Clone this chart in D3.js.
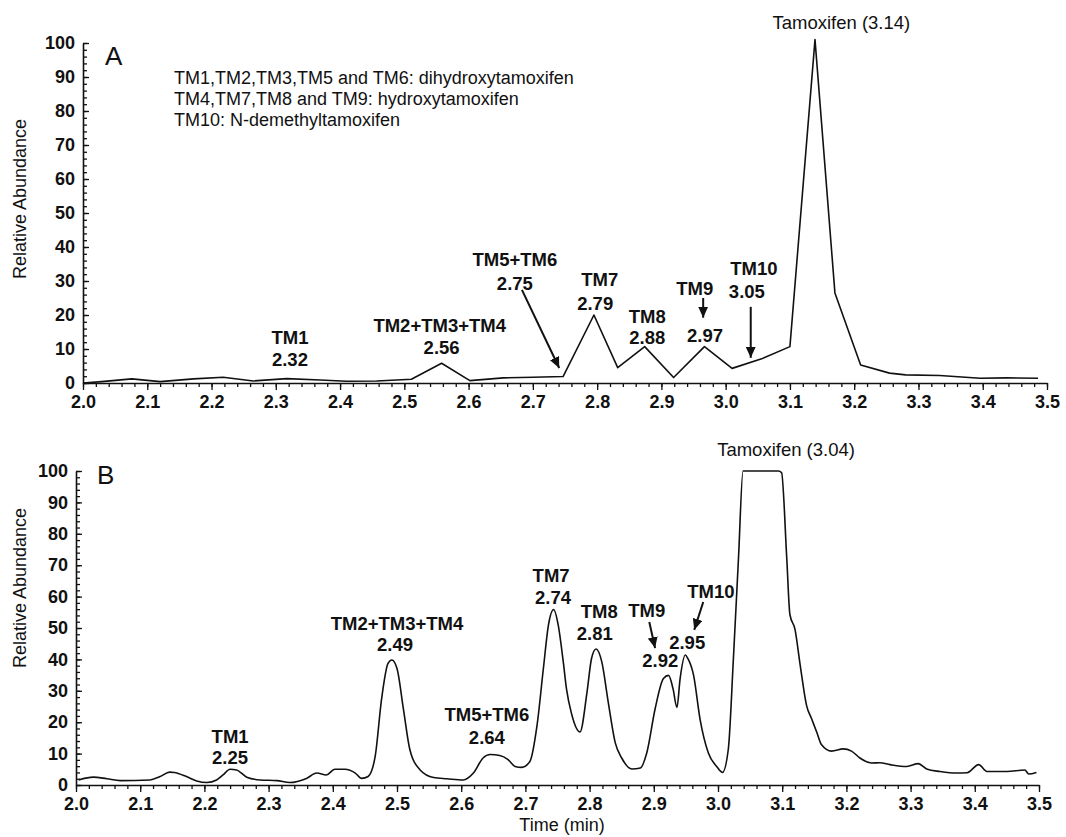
<!DOCTYPE html>
<html>
<head>
<meta charset="utf-8">
<script src="https://cdn.jsdelivr.net/npm/d3@7.9.0/dist/d3.min.js"></script>
<style>
  body { margin: 0; background: #fff; }
  svg { display: block; font-family: "Liberation Sans", Arial, sans-serif; }
</style>
</head>
<body>
<svg id="chart" width="1066" height="837"></svg>
<script>
// panel A: time (min) and relative abundance
const timeA = [2.000, 2.029, 2.076, 2.120, 2.172, 2.218, 2.265, 2.317, 2.369, 2.410, 2.457, 2.511,
  2.558, 2.602, 2.654, 2.700, 2.747, 2.795, 2.832, 2.874, 2.919, 2.967, 3.010, 3.056, 3.100,
  3.139, 3.170, 3.210, 3.255, 3.280, 3.333, 3.396, 3.437, 3.486];
const abundA = [0, 0.4, 1.2, 0.4, 1.2, 1.7, 0.6, 1.3, 0.9, 0.5, 0.6, 1.1,
  5.8, 0.7, 1.5, 1.7, 1.9, 20.0, 4.5, 10.7, 1.6, 10.7, 4.3, 7.1, 10.7,
  101, 26.5, 5.3, 2.9, 2.4, 2.2, 1.4, 1.5, 1.4];

// panel B
const timeB = [2.004, 2.027, 2.048, 2.069, 2.115, 2.131, 2.146, 2.153, 2.172, 2.188,
  2.204, 2.219, 2.229, 2.240, 2.250, 2.266, 2.287, 2.313, 2.333, 2.359,
  2.375, 2.390, 2.403, 2.419, 2.435, 2.445, 2.455, 2.466, 2.476, 2.486,
  2.492, 2.500, 2.510, 2.520, 2.536, 2.557, 2.578, 2.603, 2.619, 2.634,
  2.645, 2.660, 2.673, 2.684, 2.694, 2.707, 2.718, 2.728, 2.736, 2.744,
  2.751, 2.759, 2.764, 2.772, 2.785, 2.796, 2.803, 2.810, 2.819, 2.829,
  2.840, 2.850, 2.866, 2.879, 2.889, 2.902, 2.915, 2.923, 2.930, 2.936,
  2.941, 2.949, 2.953, 2.962, 2.972, 2.985, 2.998, 3.007, 3.016, 3.024,
  3.032, 3.039, 3.094, 3.099, 3.107, 3.112, 3.120, 3.128, 3.138, 3.146,
  3.154, 3.161, 3.177, 3.195, 3.208, 3.221, 3.239, 3.252, 3.268, 3.294,
  3.312, 3.325, 3.346, 3.372, 3.388, 3.406, 3.419, 3.450, 3.478, 3.484, 3.496];
const abundB = [1.6, 2.5, 2.0, 1.4, 1.6, 2.7, 4.1, 4.0, 2.7, 1.3,
  0.8, 1.6, 3.2, 5.0, 4.8, 2.5, 1.6, 1.4, 0.8, 2.1,
  3.8, 3.2, 5.0, 5.0, 3.8, 2.1, 2.7, 9.1, 27.4, 38.7,
  39.8, 37.1, 24.2, 11.3, 4.8, 2.4, 2.0, 1.6, 3.8, 8.6,
  9.7, 9.4, 8.1, 5.9, 5.6, 7.5, 18.8, 37.1, 51.1, 55.9,
  51.1, 39.2, 30.6, 22.6, 16.9, 29.6, 40.3, 43.3, 39.2, 26.4,
  13.4, 8.6, 5.1, 5.4, 10.2, 24.2, 33.9, 34.9, 30.6, 24.7,
  33.9, 41.4, 40.3, 34.9, 21.0, 10.2, 5.9, 4.0, 11.3, 40.3,
  72.6, 100, 100, 99.5, 72.6, 54.3, 49.5, 38.2, 25.3, 21.0,
  16.7, 12.9, 10.8, 11.5, 10.8, 8.6, 7.0, 7.1, 6.5, 5.9,
  6.8, 5.1, 4.3, 3.8, 3.9, 6.5, 4.3, 4.3, 4.8, 3.5, 4.0];

const xTicks = [2.0, 2.1, 2.2, 2.3, 2.4, 2.5, 2.6, 2.7, 2.8, 2.9, 3.0, 3.1, 3.2, 3.3, 3.4, 3.5];
const yTicks = [0, 10, 20, 30, 40, 50, 60, 70, 80, 90, 100];

const legendA = [
  'TM1,TM2,TM3,TM5 and TM6: dihydroxytamoxifen',
  'TM4,TM7,TM8 and TM9: hydroxytamoxifen',
  'TM10: N-demethyltamoxifen'
];

// peak labels, placed in data units (time, abundance)
const labelsA = [
  { text: 'TM1', t: 2.322, v: 13.4 }, { text: '2.32', t: 2.322, v: 6.8 },
  { text: 'TM2+TM3+TM4', t: 2.555, v: 17.0 }, { text: '2.56', t: 2.558, v: 10.5 },
  { text: 'TM5+TM6', t: 2.672, v: 36.2 }, { text: '2.75', t: 2.672, v: 29.4 },
  { text: 'TM7', t: 2.804, v: 30.3 }, { text: '2.79', t: 2.797, v: 23.5 },
  { text: 'TM8', t: 2.878, v: 19.6 }, { text: '2.88', t: 2.878, v: 13.3 },
  { text: 'TM9', t: 2.952, v: 27.9 }, { text: '2.97', t: 2.968, v: 14.1 },
  { text: 'TM10', t: 3.044, v: 33.8 }, { text: '3.05', t: 3.033, v: 26.8 }
];
const arrowsA = [
  { t1: 2.683, v1: 27.4, t2: 2.741, v2: 4.4 },
  { t1: 2.965, v1: 25.0, t2: 2.965, v2: 19.2 },
  { t1: 3.039, v1: 22.4, t2: 3.039, v2: 7.4 }
];
const labelsB = [
  { text: 'TM1', t: 2.240, v: 15.4 }, { text: '2.25', t: 2.240, v: 8.6 },
  { text: 'TM2+TM3+TM4', t: 2.500, v: 51.4 }, { text: '2.49', t: 2.497, v: 44.6 },
  { text: 'TM5+TM6', t: 2.640, v: 22.3 }, { text: '2.64', t: 2.640, v: 15.0 },
  { text: 'TM7', t: 2.740, v: 66.6 }, { text: '2.74', t: 2.743, v: 59.8 },
  { text: 'TM8', t: 2.815, v: 55.2 }, { text: '2.81', t: 2.808, v: 48.4 },
  { text: 'TM9', t: 2.889, v: 55.7 }, { text: '2.92', t: 2.910, v: 39.6 },
  { text: 'TM10', t: 2.989, v: 61.5 }, { text: '2.95', t: 2.952, v: 45.5 }
];
const arrowsB = [
  { t1: 2.893, v1: 51.9, t2: 2.902, v2: 43.6 },
  { t1: 2.977, v1: 58.3, t2: 2.963, v2: 49.4 }
];

const svg = d3.select('#chart');

svg.append('defs').append('marker')
  .attr('id', 'head')
  .attr('markerUnits', 'userSpaceOnUse')
  .attr('markerWidth', 12).attr('markerHeight', 10)
  .attr('refX', 11).attr('refY', 5)
  .attr('orient', 'auto')
  .append('path')
  .attr('d', 'M0,0 L11,5 L0,10 Z')
  .attr('fill', '#111');

function drawPanel(p) {
  const x = d3.scaleLinear().domain([2.0, 3.5]).range([p.left, p.right]);
  const y = d3.scaleLinear().domain([0, 100]).range([p.bottom, p.top]);
  const g = svg.append('g');

  // minor ticks first
  g.append('g')
    .attr('transform', `translate(0,${p.bottom})`)
    .call(d3.axisBottom(x).tickValues(d3.range(2.0, 3.5001, 0.02)).tickSize(4).tickFormat(''))
    .call(a => a.select('.domain').remove());
  g.append('g')
    .attr('transform', `translate(${p.left},0)`)
    .call(d3.axisLeft(y).tickValues(d3.range(0, 101, 2)).tickSize(-4).tickFormat(''))
    .call(a => a.select('.domain').remove());

  const xAxis = g.append('g')
    .attr('transform', `translate(0,${p.bottom})`)
    .call(d3.axisBottom(x).tickValues(xTicks).tickFormat(d3.format('.1f'))
      .tickSize(7).tickPadding(5).tickSizeOuter(0));
  const yAxis = g.append('g')
    .attr('transform', `translate(${p.left},0)`)
    .call(d3.axisLeft(y).tickValues(yTicks).tickSize(-6).tickPadding(8).tickSizeOuter(0));

  g.selectAll('.tick line').attr('stroke', '#111').attr('stroke-width', 1.3);
  [xAxis, yAxis].forEach(a => {
    a.attr('font-family', null).attr('font-size', null);
    a.select('.domain').attr('stroke', '#111').attr('stroke-width', 1.6);
    a.selectAll('text').attr('fill', '#111')
      .style('font-size', '18px').style('font-weight', 'bold');
  });

  const line = d3.line()
    .x((d, i) => x(p.times[i]))
    .y(d => y(d))
    .curve(p.curve);
  g.append('path')
    .datum(p.values)
    .attr('d', line)
    .attr('fill', 'none')
    .attr('stroke', '#111')
    .attr('stroke-width', 1.6)
    .attr('stroke-linejoin', 'round');

  g.selectAll('.peak')
    .data(p.labels)
    .join('text')
    .attr('x', d => x(d.t))
    .attr('y', d => y(d.v))
    .attr('text-anchor', 'middle')
    .attr('dominant-baseline', 'central')
    .style('font-size', '18.5px')
    .style('font-weight', 'bold')
    .attr('fill', '#111')
    .text(d => d.text);

  g.selectAll('.arrow')
    .data(p.arrows)
    .join('line')
    .attr('x1', d => x(d.t1)).attr('y1', d => y(d.v1))
    .attr('x2', d => x(d.t2)).attr('y2', d => y(d.v2))
    .attr('stroke', '#111')
    .attr('stroke-width', 2)
    .attr('marker-end', 'url(#head)');

  g.append('text')
    .attr('x', x(p.title.t)).attr('y', y(p.title.v))
    .attr('text-anchor', 'middle')
    .attr('dominant-baseline', 'central')
    .style('font-size', '18.5px')
    .attr('fill', '#111')
    .text(p.title.text);

  g.append('text')
    .attr('x', p.left + p.letterDx).attr('y', p.top + p.letterDy)
    .style('font-size', '26px')
    .attr('fill', '#111')
    .text(p.letter);

  g.append('text')
    .attr('transform', `translate(20,${p.ylabelY}) rotate(-90)`)
    .attr('text-anchor', 'middle')
    .attr('dominant-baseline', 'central')
    .style('font-size', '18px')
    .attr('fill', '#111')
    .text('Relative Abundance');

  return { x, y, g };
}

const A = drawPanel({
  left: 83, right: 1047, top: 43, bottom: 383,
  times: timeA, values: abundA, curve: d3.curveLinear,
  labels: labelsA, arrows: arrowsA,
  title: { text: 'Tamoxifen (3.14)', t: 3.180, v: 105.9 },
  letter: 'A', letterDx: 22, letterDy: 22, ylabelY: 199
});

A.g.append('g')
  .selectAll('text')
  .data(legendA)
  .join('text')
  .attr('x', 174)
  .attr('y', (d, i) => 84 + i * 21)
  .style('font-size', '18px')
  .attr('fill', '#111')
  .text(d => d);

drawPanel({
  left: 76, right: 1039, top: 471, bottom: 785,
  times: timeB, values: abundB, curve: d3.curveMonotoneX,
  labels: labelsB, arrows: arrowsB,
  title: { text: 'Tamoxifen (3.04)', t: 3.106, v: 106.7 },
  letter: 'B', letterDx: 21, letterDy: 13, ylabelY: 588
});

svg.append('text')
  .attr('x', 562).attr('y', 831)
  .attr('text-anchor', 'middle')
  .style('font-size', '18px')
  .attr('fill', '#111')
  .text('Time (min)');
</script>
</body>
</html>
